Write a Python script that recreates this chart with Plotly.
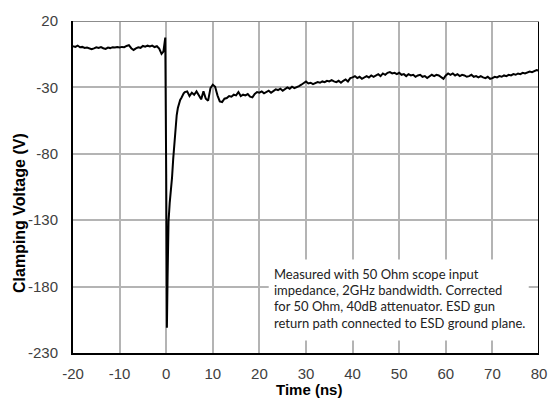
import plotly.graph_objects as go

# ---- data ----
pre_t = [-20.0, -19.5, -19.0, -18.5, -18.0, -17.5, -17.0, -16.5, -16.0, -15.5,
         -15.0, -14.5, -14.0, -13.5, -13.0, -12.5, -12.0, -11.5, -11.0, -10.5,
         -10.0, -9.5, -9.0, -8.5, -8.0, -7.5, -7.0, -6.5, -6.0, -5.5,
         -5.0, -4.5, -4.0, -3.5, -3.0, -2.5, -2.0, -1.5, -1.0, -0.6]
pre_v = [1.0, 0.5, 1.5, 0.2, 0.5, -0.3, 0.0, -0.5, -1.3, -0.6,
         0.2, -0.3, 0.4, -0.5, -1.0, 0.0, -0.4, 0.3, 0.0, 0.4,
         0.0, 0.5, 0.3, 1.2, 1.8, -0.5, -1.8, -0.6, 0.2, -0.2,
         1.2, 0.6, 1.4, 0.8, 1.5, 0.4, 1.0, -0.8, -4.8, -3.0]

pulse_t = [-0.2, 0.0, 0.15, 0.3, 0.5, 0.75, 1.0, 1.25, 1.5, 1.75,
           2.0, 2.25, 2.5, 2.75, 3.0, 3.25, 3.5, 3.75]
pulse_v = [7.5, -95.0, -211.0, -172.0, -131.0, -117.0, -109.0, -98.0, -84.0, -70.0,
           -61.0, -51.0, -45.5, -41.5, -39.5, -38.0, -36.0, -34.5]

plat_t = [4.0, 4.5, 5.0, 5.5, 6.0, 6.5, 7.0, 7.5, 8.0, 8.5,
          9.0, 9.5, 10.0, 10.5, 11.0, 11.5, 12.0, 12.5, 13.0, 13.5,
          14.0, 14.5, 15.0, 15.5, 16.0, 16.5, 17.0, 17.5, 18.0, 18.5,
          19.0, 19.5, 20.0]
plat_v = [-33.5, -33.0, -36.5, -34.0, -35.5, -33.0, -36.0, -39.0, -33.0, -38.5,
          -40.0, -30.5, -28.0, -29.5, -36.0, -40.5, -41.0, -38.5, -38.0, -36.5,
          -37.0, -35.5, -36.0, -33.5, -36.5, -35.5, -36.0, -35.0, -37.0, -37.5,
          -35.0, -33.5, -34.0]

mid_t = [20.5, 21.0, 21.5, 22.0, 22.5, 23.0, 23.5, 24.0, 24.5, 25.0,
         25.5, 26.0, 26.5, 27.0, 27.5, 28.0, 28.5, 29.0, 29.5, 30.0]
mid_v = [-33.0, -34.5, -33.5, -32.5, -34.0, -33.0, -31.5, -32.0, -31.0, -32.5,
         -31.0, -30.0, -31.0, -29.5, -30.5, -30.0, -29.0, -28.0, -27.0, -25.5]

late_t = [30.5, 31.0, 31.5, 32.0, 32.5, 33.0, 33.5, 34.0, 34.5, 35.0,
          35.5, 36.0, 36.5, 37.0, 37.5, 38.0, 38.5, 39.0, 39.5, 40.0,
          40.5, 41.0, 41.5, 42.0, 42.5, 43.0, 43.5, 44.0, 44.5, 45.0,
          45.5, 46.0, 46.5, 47.0, 47.5, 48.0, 48.5, 49.0, 49.5, 50.0,
          50.5, 51.0, 51.5, 52.0, 52.5, 53.0, 53.5, 54.0, 54.5, 55.0,
          55.5, 56.0, 56.5, 57.0, 57.5, 58.0, 58.5, 59.0, 59.5, 60.0,
          60.5, 61.0, 61.5, 62.0, 62.5, 63.0, 63.5, 64.0, 64.5, 65.0,
          65.5, 66.0, 66.5, 67.0, 67.5, 68.0, 68.5, 69.0, 69.5, 70.0,
          70.5, 71.0, 71.5, 72.0, 72.5, 73.0, 73.5, 74.0, 74.5, 75.0,
          75.5, 76.0, 76.5, 77.0, 77.5, 78.0, 78.5, 79.0, 79.5, 80.0]
late_v = [-27.0, -26.5, -27.5, -27.0, -26.0, -26.5, -25.5, -26.0, -25.0, -25.5,
          -24.5, -25.5, -26.0, -25.0, -26.5, -25.0, -24.0, -25.5, -23.0, -22.5,
          -21.5, -23.0, -22.0, -23.5, -22.5, -21.5, -22.5, -21.0, -22.0, -21.0,
          -20.0, -21.5, -19.5, -20.5, -19.0, -18.5, -19.5, -19.0, -20.0, -19.0,
          -20.5, -20.0, -21.5, -20.0, -21.0, -20.5, -22.0, -21.0, -20.5, -22.0,
          -21.5, -23.0, -21.5, -20.5, -21.5, -20.5, -21.0, -22.5, -23.5, -21.0,
          -19.5, -20.5, -19.5, -21.0, -20.0, -21.5, -20.5, -21.0, -22.0, -21.5,
          -20.5, -22.0, -21.5, -22.5, -21.5, -22.5, -23.0, -22.0, -23.5, -23.0,
          -22.0, -22.5, -21.5, -22.0, -21.0, -21.5, -20.5, -21.0, -20.0, -20.5,
          -19.5, -20.0, -19.0, -19.5, -18.5, -18.0, -18.5, -17.5, -17.0, -17.5]

x_ticks = [-20, -10, 0, 10, 20, 30, 40, 50, 60, 70, 80]
y_ticks = [20, -30, -80, -130, -180, -230]

note_lines = [
    "Measured with 50 Ohm scope input",
    "impedance, 2GHz bandwidth. Corrected",
    "for 50 Ohm, 40dB attenuator. ESD gun",
    "return path connected to ESD ground plane.",
]
note_y = [-170.6, -182.4, -194.9, -207.5]

time_ns = pre_t + pulse_t + plat_t + mid_t + late_t
clamp_v = pre_v + pulse_v + plat_v + mid_v + late_v

# ---- figure ----
fig = go.Figure()
fig.add_trace(go.Scatter(x=time_ns, y=clamp_v, mode="lines",
                         line=dict(color="black", width=2), showlegend=False))

tickfont = dict(family="Liberation Sans, Arial, sans-serif", size=15, color="#404040")

fig.update_layout(
    width=559, height=403,
    margin=dict(l=73, r=16, t=15, b=50),
    paper_bgcolor="white", plot_bgcolor="white",
    xaxis=dict(range=[-20, 80], tickvals=x_ticks, ticktext=[str(v) for v in x_ticks],
               showgrid=True, gridcolor="#b4b4b4", gridwidth=2, zeroline=False,
               showline=True, linecolor="black", linewidth=2,
               ticks="", tickfont=tickfont, ticklabelstandoff=6),
    yaxis=dict(range=[-230, 20], tickvals=y_ticks, ticktext=[str(v) for v in y_ticks],
               showgrid=True, gridcolor="#b4b4b4", gridwidth=2, zeroline=False,
               showline=True, linecolor="black", linewidth=2,
               ticks="", tickfont=tickfont, ticklabelstandoff=10),
)

# frame: right edge black, top edge gray
fig.add_shape(type="line", xref="x", yref="y", x0=80, x1=80, y0=-230, y1=20,
              line=dict(color="black", width=2))
fig.add_shape(type="line", xref="x", yref="y", x0=-20, x1=80, y0=20, y1=20,
              line=dict(color="#8c8c8c", width=2))

# white box behind note (above grid, below trace)
fig.add_shape(type="rect", xref="x", yref="y", x0=22.0, x1=77.8, y0=-220.5, y1=-159.5,
              fillcolor="white", line=dict(width=0), layer="between")

for txt, yy in zip(note_lines, note_y):
    fig.add_annotation(x=22.6, y=yy, xref="x", yref="y", text=txt, showarrow=False,
                       xanchor="left", yanchor="middle", align="left",
                       font=dict(family="Lato, Carlito, sans-serif", size=13, color="#222222"))

# axis titles
fig.add_annotation(x=(19 - 73) / 470, y=(353 - 210) / 338, xref="paper", yref="paper",
                   text="<b>Clamping Voltage (V)</b>", textangle=-90, showarrow=False,
                   xanchor="center", yanchor="middle",
                   font=dict(family="Liberation Sans, Arial, sans-serif", size=16, color="black"))
fig.add_annotation(x=(311 - 73) / 470, y=(353 - 390) / 338, xref="paper", yref="paper",
                   text="<b>Time (ns)</b>", showarrow=False,
                   xanchor="center", yanchor="middle",
                   font=dict(family="Liberation Sans, Arial, sans-serif", size=15, color="black"))

fig.write_html("out.html",
               config={"displayModeBar": False},
               post_script="document.body.style.margin='0';document.body.style.overflow='hidden';")
